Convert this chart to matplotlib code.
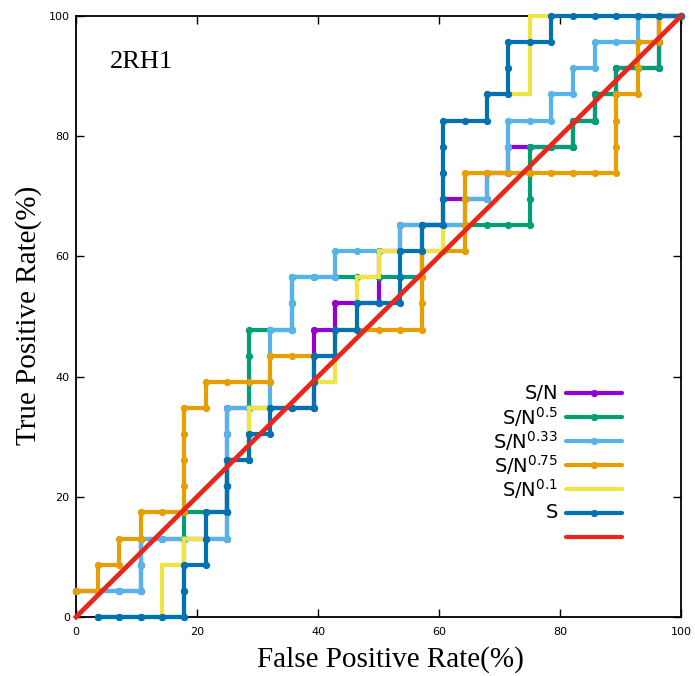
import numpy as np
import matplotlib
matplotlib.use("Agg")
import matplotlib.pyplot as plt

# score-ranked labels for each scoring rule: P = true site, N = decoy
# (28 decoys, 23 true sites); the plotted curve starts after the first sample
n_neg = 28
n_pos = 23

rank_sn = "P NNN PP NNNN PPPPP NNNN PPP N P NN PP N P NN P NN P N P NNN P N P N P NN PP N"
rank_sn05 = "N NNNN PPPP NN PP N PPPPP NN PP NNNNNN PP NNNNN PPP NN P N P N P NN PP N"
rank_sn033 = "P NNN PP NNNN PPPPP NN PPP N PP NN P NNN P NNN P N P N PP NN P N P N P NN P NN"
rank_sn075 = "P N P N P N P NN PPPP N P NNN P NNN P NNNN PPP NN PPP NNNNNNN PPP N PP N P N"
rank_sn01 = "N NNN PP N P N P N PP N PP NNN P N PP N PP N P NNN PPPPP NN P NN PPP NNNNNNN"
rank_s = "NNNNN PP N PP N PP N P N P NN PP N P N P NN PP N P N PPPP NN P N PP NN P NNNNNN"

labels = [r"S/N", r"S/N$^{0.5}$", r"S/N$^{0.33}$", r"S/N$^{0.75}$", r"S/N$^{0.1}$", r"S"]
rankings = [rank_sn, rank_sn05, rank_sn033, rank_sn075, rank_sn01, rank_s]
colors = ["#9400d3", "#009e73", "#56b4e9", "#e69f00", "#f0e442", "#0072b2"]
show_points = [True, True, True, True, False, True]
red = "#e8261b"


def roc_points(ranking):
    seq = ranking.replace(" ", "")
    fp = np.cumsum([c == "N" for c in seq])
    tp = np.cumsum([c == "P" for c in seq])
    return fp / n_neg * 100, tp / n_pos * 100


plt.rcParams["mathtext.fontset"] = "dejavusans"

fig = plt.figure(figsize=(6.95, 6.76), dpi=100)
ax = fig.add_axes([76 / 695, 1 - 617 / 676, 605 / 695, 601 / 676])

lw = 3.0
for k, (rank, col, pts) in enumerate(zip(rankings, colors, show_points)):
    x, y = roc_points(rank)
    ax.plot(x, y, color=col, lw=lw, marker="o" if pts else None, ms=4.2,
            solid_joinstyle="miter", clip_on=False, zorder=3 + k)

ax.plot([0, 100], [0, 100], color=red, lw=3.4, clip_on=False, zorder=10)

ax.set_xlim(0, 100)
ax.set_ylim(0, 100)
ax.set_xticks(np.arange(0, 101, 20))
ax.set_yticks(np.arange(0, 101, 20))
ax.tick_params(direction="in", length=5.5, width=1, top=True, right=True,
               labelsize=8, colors="black")
ax.tick_params(axis="x", pad=7)
ax.tick_params(axis="y", pad=4.5)
for sp in ax.spines.values():
    sp.set_linewidth(1.3)
    sp.set_zorder(2)

serif = "Liberation Serif"
ax.set_xlabel("False Positive Rate(%)", family=serif, fontsize=21, va="center")
ax.xaxis.set_label_coords(0.519, -0.0715)
ax.set_ylabel("True Positive Rate(%)", family=serif, fontsize=21, va="center")
ax.yaxis.set_label_coords(-0.079, 0.502)

ax.text(0.056, 0.913, "2RH1", family=serif, fontsize=19, transform=ax.transAxes)

# key drawn by hand so the rows stay evenly spaced
row_y = [393.3, 417.3, 441.3, 465.3, 489.3, 513.0]
key_x0, key_x1, key_xm, text_x = 566, 622, 594, 558
to_ax_x = lambda px: (px - 76) / 605
to_ax_y = lambda py: (617 - py) / 601
for k, (lab, col, pts) in enumerate(zip(labels, colors, show_points)):
    yy = to_ax_y(row_y[k])
    ax.plot([to_ax_x(key_x0), to_ax_x(key_x1)], [yy, yy], color=col, lw=lw,
            solid_capstyle="round", transform=ax.transAxes, clip_on=False, zorder=12)
    if pts:
        ax.plot([to_ax_x(key_xm)], [yy], "o", color=col, ms=4.2,
                transform=ax.transAxes, clip_on=False, zorder=12)
    ax.text(to_ax_x(text_x), yy, lab, ha="right", va="center", fontsize=14,
            family="DejaVu Sans", transform=ax.transAxes)
yy = to_ax_y(537.0)
ax.plot([to_ax_x(key_x0), to_ax_x(key_x1)], [yy, yy], color=red, lw=lw,
        solid_capstyle="round", transform=ax.transAxes, clip_on=False, zorder=12)

fig.savefig("out.png", dpi=100)
